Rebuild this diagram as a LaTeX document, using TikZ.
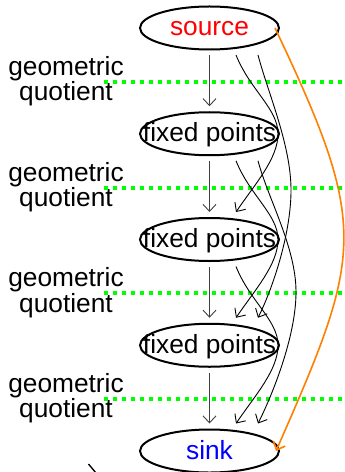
\documentclass[tikz,border=0pt]{standalone}
\usepackage{fontspec}
\setmainfont{Liberation Sans}
\usetikzlibrary{shapes.geometric,arrows.meta}
\definecolor{edgeorange}{RGB}{255,128,0}

\begin{document}
\begin{tikzpicture}
    [x=1bp, y=-1bp,
    node distance=105.75bp,
    blob/.style={ellipse, draw, line width=2bp, minimum width=139bp, minimum height=43bp,
        inner xsep=-18bp, inner ysep=0pt, text height=19bp, text depth=3bp,
        font=\fontsize{26.4}{30}\selectfont},
    qlabel/.style={align=center, inner sep=0pt, font=\fontsize{26.4}{19}\selectfont},
    sep/.style={green, line width=4bp, dash pattern=on 4bp off 5bp},
    link/.style={line width=0.9bp, -{Straight Barb[length=7bp,width=13bp]}},
    down/.style={link, black!75, shorten <=5bp, shorten >=5bp}]
    \useasboundingbox (0,0) rectangle (344,472);

        %% the chain
    \node[blob, text=red] (src) at (209.5,28) {source};
        \node[blob, below of = src] (fp1) {fixed points};
        \node[blob, below of = fp1] (fp2) {fixed points};
        \node[blob, below of = fp2] (fp3) {fixed points};
        \node[blob, text=blue, below of = fp3] (snk) {sink};

        %% quotient levels
    \node[qlabel] (q1) at (66,81) {geometric\\quotient};
        \node[qlabel] (q2) at (66,187) {geometric\\quotient};
        \node[qlabel] (q3) at (66,292.5) {geometric\\quotient};
        \node[qlabel] (q4) at (66,398) {geometric\\quotient};

        \draw[sep] (104,82) -- (344,82);
        \draw[sep] (104,188) -- (344,188);
        \draw[sep] (104,293) -- (344,293);
        \draw[sep] (104,399) -- (344,399);

        %% one step down
    \draw[down] (src) -- (fp1);
        \draw[down] (fp1) -- (fp2);
        \draw[down] (fp2) -- (fp3);
        \draw[down] (fp3) -- (snk);

        %% two steps down
    \draw[link] ([xshift=26.5bp,yshift=-27bp]src.center) .. controls +(14,35) and +(0,-25) .. ([xshift=-2bp]fp1.east)
            .. controls +(0,25) and +(19,-28) .. ([xshift=26.5bp,yshift=27.5bp]fp2.center);
        \draw[link] ([xshift=26.5bp,yshift=-27bp]fp1.center) .. controls +(14,35) and +(0,-25) .. ([xshift=-2bp]fp2.east)
            .. controls +(0,25) and +(19,-28) .. ([xshift=26.5bp,yshift=27.5bp]fp3.center);
        \draw[link] ([xshift=26.5bp,yshift=-27bp]fp2.center) .. controls +(14,35) and +(0,-25) .. ([xshift=-2bp]fp3.east)
            .. controls +(0,25) and +(19,-28) .. ([xshift=26.5bp,yshift=27.5bp]snk.center);

        %% three steps down
    \coordinate (v1) at (291,190);
        \coordinate (v2) at (296,292);
        \draw[link] ([xshift=48.5bp,yshift=-27bp]src.center) .. controls +(10,38) and +(0,-45) .. (v1)
            .. controls +(0,45) and +(14,-28) .. ([xshift=48.5bp,yshift=27.5bp]fp3.center);
        \draw[link] ([xshift=48.5bp,yshift=-27bp]fp1.center) .. controls +(10,38) and +(0,-45) .. (v2)
            .. controls +(0,45) and +(14,-28) .. ([xshift=48.5bp,yshift=27.5bp]snk.center);

        %% all the way
    \draw[link, edgeorange, line width=1.6bp] ([xshift=-5bp]src.east) .. controls +(95,200) and +(87,-198) .. ([xshift=-4bp]snk.east);

    \draw[line width=1.4bp] (88.5,464) -- (96,473);
    \end{tikzpicture}
\end{document}
